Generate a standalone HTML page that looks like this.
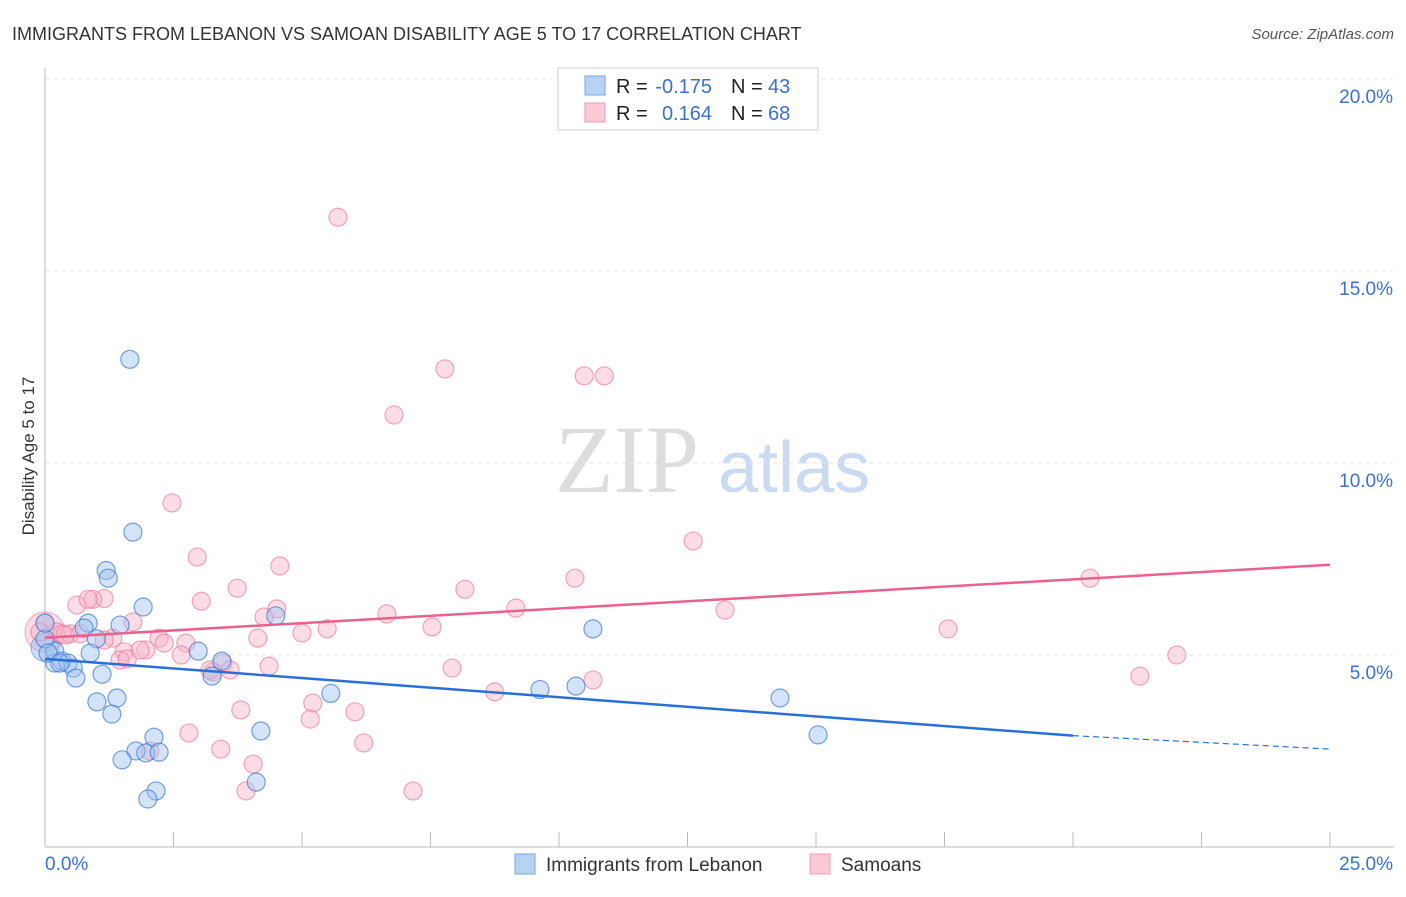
<!DOCTYPE html>
<html><head><meta charset="utf-8"><style>
body{margin:0;background:#fff;font-family:"Liberation Sans",sans-serif}
svg text{font-family:"Liberation Sans",sans-serif}
</style></head><body>
<svg id="c" width="1406" height="892" xmlns="http://www.w3.org/2000/svg">
<text x="12" y="40" font-size="18" fill="#333">IMMIGRANTS FROM LEBANON VS SAMOAN DISABILITY AGE 5 TO 17 CORRELATION CHART</text>
<text x="1394" y="39" font-size="15" fill="#555" font-style="italic" text-anchor="end">Source: ZipAtlas.com</text>
<text x="34" y="456" font-size="17" fill="#333" text-anchor="middle" transform="rotate(-90 34 456)">Disability Age 5 to 17</text>
<text x="555" y="492" font-size="96" fill="#ddd" style="font-family:'Liberation Serif',serif">ZIP</text>
<text x="718" y="492" font-size="72" fill="#c9daf2">atlas</text>
<g id="grid"></g><g id="pts"></g><g id="lines"></g>
<g>
<rect x="558" y="68" width="260" height="62" fill="#fff" stroke="#ccc"/>
<rect x="585" y="76" width="20" height="19" fill="#b8d2f4" stroke="#7aa6e6"/>
<rect x="585" y="103" width="20" height="19" fill="#fbc8d6" stroke="#f09ab3"/>
<text x="616" y="93" font-size="20" fill="#222">R =</text>
<text x="712" y="93" font-size="20" fill="#3a70d0" text-anchor="end">-0.175</text>
<text x="731" y="93" font-size="20" fill="#222">N =</text>
<text x="768" y="93" font-size="20" fill="#3a70d0">43</text>
<text x="616" y="120" font-size="20" fill="#222">R =</text>
<text x="712" y="120" font-size="20" fill="#3a70d0" text-anchor="end">0.164</text>
<text x="731" y="120" font-size="20" fill="#222">N =</text>
<text x="768" y="120" font-size="20" fill="#3a70d0">68</text>
</g>
<g>
<rect x="515" y="854" width="20" height="20" fill="#b8d2f4" stroke="#7aa6e6"/>
<text x="546" y="871" font-size="19" fill="#333">Immigrants from Lebanon</text>
<rect x="810" y="854" width="20" height="20" fill="#fbc8d6" stroke="#f09ab3"/>
<text x="841" y="871" font-size="19" fill="#333">Samoans</text>
</g>
</svg>
<script>
const yTicks=[5,10,15,20];
const xTickLabels=["0.0%","25.0%"];
const blueX=[1.65,1.71,1.19,1.23,1.91,1.46,0.84,0.76,1.0,0.88,0.19,0.19,0.33,0.45,0.55,0.6,1.11,1.01,1.4,1.3,2.12,1.77,1.96,2.22,1.5,2.16,2.0,2.98,3.44,3.25,4.2,4.11,4.49,5.56,9.63,10.33,10.66,14.3,15.04,0.0,0.06,0.0,0.29];
const blueY=[12.7,8.2,7.2,7.0,6.25,5.78,5.83,5.7,5.42,5.05,5.1,4.79,4.84,4.79,4.66,4.4,4.5,3.78,3.88,3.46,2.86,2.5,2.45,2.47,2.27,1.46,1.25,5.1,4.84,4.45,3.02,1.69,6.02,4.0,4.1,4.19,5.68,3.88,2.92,5.42,5.05,5.83,4.79];
const pinkX=[5.7,7.78,6.79,10.49,10.88,2.47,2.96,4.57,3.74,12.61,10.31,8.17,20.33,3.04,1.15,0.93,0.62,1.71,4.51,4.26,6.65,9.16,13.23,7.53,5.49,5.0,4.14,17.57,0.23,0.33,0.49,0.68,1.32,2.22,2.32,2.74,1.96,1.54,2.65,1.46,1.6,3.46,4.36,3.27,3.6,7.92,22.02,21.3,8.75,10.66,3.81,5.21,6.03,5.16,2.8,6.2,3.42,4.05,3.91,7.16,0.0,-0.1,2.04,0.39,0.84,3.21,1.15,1.85];
const pinkY=[16.4,12.45,11.25,12.27,12.27,8.96,7.55,7.32,6.74,7.97,7.0,6.71,7.0,6.4,6.47,6.45,6.3,5.86,6.2,5.99,6.07,6.22,6.17,5.73,5.68,5.57,5.44,5.68,5.6,5.55,5.55,5.55,5.44,5.44,5.31,5.31,5.13,5.08,5.0,4.87,4.9,4.79,4.71,4.56,4.61,4.66,5.0,4.45,4.04,4.35,3.57,3.75,3.52,3.33,2.97,2.71,2.55,2.16,1.46,1.46,5.83,5.6,2.5,5.52,6.45,4.61,5.39,5.13];
const blueFit=[4.9,2.9];const blueFitX=[0,20];const blueDashX=[20,25];const blueDashY=[2.9,2.55];
const pinkFit=[5.45,7.35];const pinkFitX=[0,25];
const NS="http://www.w3.org/2000/svg";
const X=v=>45+v*51.4, Y=v=>847-v*38.4;
function mk(t,a,p){const e=document.createElementNS(NS,t);for(const k in a)e.setAttribute(k,a[k]);p.appendChild(e);return e;}
const g=document.getElementById('grid');
yTicks.forEach(t=>{const l=mk('line',{x1:45,x2:1394,y1:Y(t),y2:Y(t),stroke:'#e6e6e6','stroke-dasharray':'4,4'},g);


const tx=mk('text',{x:1393,y:Y(t)+24,'font-size':19,fill:'#3a70d0','text-anchor':'end'},g);tx.textContent=t.toFixed(1)+'%';

});
const ax=mk('line',{x1:45,x2:45,y1:68,y2:847,stroke:'#bbb'},g);


const bx=mk('line',{x1:45,x2:1394,y1:847,y2:847,stroke:'#bbb'},g);


for(let i=0;i<=10;i++){const t=mk('line',{x1:X(i*2.5),x2:X(i*2.5),y1:832,y2:847,stroke:'#bbb'},g);

}
[[0,'start',45],[25,'end',1393]].forEach((d,i)=>{const t=mk('text',{x:d[2],y:870,'font-size':19,fill:'#3a70d0','text-anchor':d[1]},g);t.textContent=xTickLabels[i];

});
const p=document.getElementById('pts');
const big1=mk('circle',{cx:X(0),cy:Y(5.6),r:20,fill:'rgba(247,170,195,0.4)',stroke:'rgba(235,120,155,0.6)'},p);


const big2=mk('circle',{cx:X(0),cy:Y(5.2),r:14,fill:'rgba(150,185,235,0.45)',stroke:'rgba(80,130,220,0.6)'},p);


pinkX.forEach((x,i)=>{const c=mk('circle',{cx:X(x),cy:Y(pinkY[i]),r:9,fill:'rgba(248,180,200,0.45)',stroke:'rgba(235,120,155,0.65)','stroke-width':1.2},p);

});
blueX.forEach((x,i)=>{const c=mk('circle',{cx:X(x),cy:Y(blueY[i]),r:9,fill:'rgba(160,195,240,0.45)',stroke:'rgba(60,120,215,0.7)','stroke-width':1.2},p);

});
const L=document.getElementById('lines');
const l1=mk('line',{x1:X(pinkFitX[0]),y1:Y(pinkFit[0]),x2:X(pinkFitX[1]),y2:Y(pinkFit[1]),stroke:'#e8628d','stroke-width':2.5},L);


const l2=mk('line',{x1:X(blueFitX[0]),y1:Y(blueFit[0]),x2:X(blueFitX[1]),y2:Y(blueFit[1]),stroke:'#2a6fd6','stroke-width':2.5},L);


const l3=mk('line',{x1:X(blueDashX[0]),y1:Y(blueDashY[0]),x2:X(blueDashX[1]),y2:Y(blueDashY[1]),stroke:'#2a6fd6','stroke-width':1.2,'stroke-dasharray':'6,4'},L);


</script>
</body></html>
